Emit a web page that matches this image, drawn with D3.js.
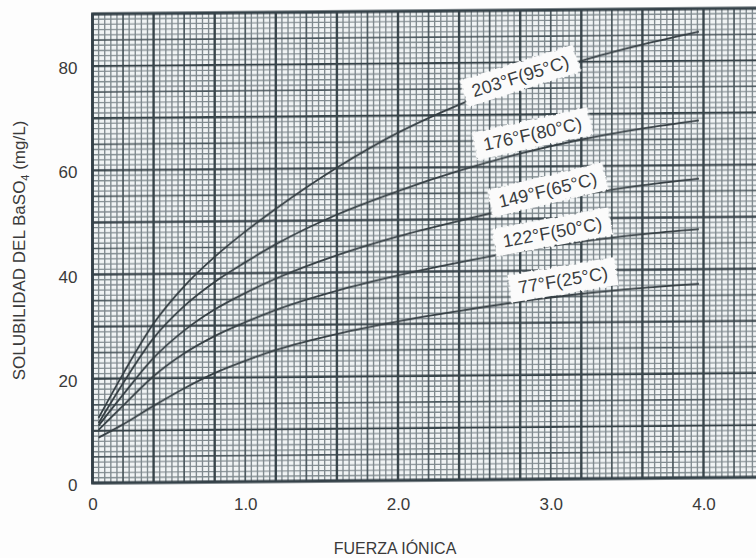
<!DOCTYPE html>
<html>
<head>
<meta charset="utf-8">
<script src="https://cdn.jsdelivr.net/npm/d3@7"></script>
<style>
  html, body { margin: 0; padding: 0; background: #ffffff; }
  svg { display: block; }
</style>
</head>
<body>
<svg id="chart" width="756" height="558"></svg>
<script>
// Ionic strength sample points shared by every isotherm
const ionicStrength = [0.04, 0.2, 0.4, 0.6, 0.8, 1.0, 1.2, 1.6, 2.0, 2.4, 2.8, 3.2, 3.6, 3.97];

// BaSO4 solubility (mg/L) for each temperature
const sol203F = [12.5, 20.9, 30.5, 37.6, 43.2, 48.0, 52.3, 60.1, 66.7, 72.0, 76.5, 80.2, 83.2, 85.6];
const sol176F = [11.5, 19.1, 27.7, 33.8, 38.4, 42.1, 45.5, 51.1, 55.5, 59.3, 62.5, 65.1, 67.1, 68.6];
const sol149F = [11.0, 16.9, 23.9, 29.1, 33.1, 36.2, 38.9, 43.3, 46.8, 49.7, 52.3, 54.5, 56.2, 57.4];
const sol122F = [10.2, 14.8, 20.4, 24.7, 28.0, 30.6, 32.9, 36.5, 39.3, 41.7, 43.8, 45.5, 46.8, 47.7];
const sol77F  = [ 8.7, 11.2, 14.7, 18.0, 20.9, 23.2, 25.2, 28.2, 30.5, 32.4, 34.1, 35.5, 36.5, 37.2];

const seriesNames = ["203°F(95°C)", "176°F(80°C)", "149°F(65°C)", "122°F(50°C)", "77°F(25°C)"];
const seriesValues = [sol203F, sol176F, sol149F, sol122F, sol77F];

// Where each temperature tag sits (data units) and its tilt in degrees
const labelX = [2.80, 2.88, 2.98, 3.01, 3.08];
const labelY = [77.4, 66.3, 55.5, 47.4, 38.2];
const labelAngle = [17, 12, 13, 10, 9];

const xTicks = [0, 1, 2, 3, 4];
const xTickLabels = ["0", "1.0", "2.0", "3.0", "4.0"];
const yTicks = [0, 20, 40, 60, 80];

const W = 756, H = 558;
const svg = d3.select("#chart");

const x = d3.scaleLinear().domain([0, 4]).range([92.5, 703.5]);
const y = d3.scaleLinear().domain([0, 90]).range([483, 14]);
const xMax = x.invert(W + 4);

// soft, slightly ragged edge for the pasted-on tags
const defs = svg.append("defs");
const rough = defs.append("filter").attr("id", "rough")
  .attr("x", "-10%").attr("y", "-30%").attr("width", "120%").attr("height", "160%");
rough.append("feTurbulence").attr("type", "fractalNoise").attr("baseFrequency", "0.35")
  .attr("numOctaves", 2).attr("seed", 3).attr("result", "noise");
rough.append("feDisplacementMap").attr("in", "SourceGraphic").attr("in2", "noise")
  .attr("scale", 4).attr("xChannelSelector", "R").attr("yChannelSelector", "G");

const soft = defs.append("filter").attr("id", "soft");
soft.append("feGaussianBlur").attr("stdDeviation", 0.35);

svg.append("rect").attr("width", W).attr("height", H).attr("fill", "#fdfdfd");

// the graph paper sits a touch askew on the page
const plot = svg.append("g")
  .attr("transform", `translate(${x(0)},0) skewY(-0.5) translate(${-x(0)},0)`);

const gridG = plot.append("g").attr("filter", "url(#soft)");
gridG.append("rect")
  .attr("x", x(0)).attr("y", y(90))
  .attr("width", W - x(0) + 10).attr("height", y(0) - y(90))
  .attr("fill", "#f1f4f5");

// grid: 0.04 per minor column, 1 mg/L per minor row
const vIdx = d3.range(0, Math.floor(xMax / 0.04) + 1);
const hIdx = d3.range(0, 91);
const levels = [
  { test: i => i % 5 !== 0, color: "#7f898e", width: 1.35 },
  { test: i => i % 5 === 0 && i % 10 !== 0, color: "#4c585e", width: 1.7 },
  { test: i => i % 10 === 0, color: "#39454b", width: 2.4 }
];
levels.forEach(lv => {
  gridG.append("g").selectAll("line.v")
    .data(vIdx.filter(lv.test)).join("line")
    .attr("x1", i => x(i * 0.04)).attr("x2", i => x(i * 0.04))
    .attr("y1", y(90)).attr("y2", y(0))
    .attr("stroke", lv.color).attr("stroke-width", lv.width);
  gridG.append("g").selectAll("line.h")
    .data(hIdx.filter(lv.test)).join("line")
    .attr("x1", x(0)).attr("x2", W + 10)
    .attr("y1", i => y(i)).attr("y2", i => y(i))
    .attr("stroke", lv.color).attr("stroke-width", lv.width);
});

// frame
gridG.append("path")
  .attr("d", `M${W + 10},${y(90)} H${x(0)} V${y(0)} H${W + 10}`)
  .attr("fill", "none").attr("stroke", "#36424a").attr("stroke-width", 2.8);

// isotherms
const line = d3.line()
  .x((d, i) => x(ionicStrength[i]))
  .y(d => y(d))
  .curve(d3.curveMonotoneX);

plot.append("g").attr("filter", "url(#soft)")
  .selectAll("path.curve").data(seriesValues).join("path")
  .attr("class", "curve")
  .attr("d", line)
  .attr("fill", "none")
  .attr("stroke", "#343e43")
  .attr("stroke-width", 1.8);

// temperature tags
const tags = plot.append("g").selectAll("g.tag").data(seriesNames).join("g")
  .attr("class", "tag")
  .attr("transform", (d, i) => `translate(${x(labelX[i])},${y(labelY[i])}) rotate(${-labelAngle[i]})`);

tags.each(function (d) {
  const g = d3.select(this);
  const t = g.append("text")
    .attr("text-anchor", "middle")
    .attr("dy", "0.36em")
    .attr("font-family", "'Liberation Sans', Arial, Helvetica, sans-serif")
    .attr("font-size", 18)
    .attr("fill", "#3a3d3f")
    .text(d);
  const w = t.node().getComputedTextLength();
  g.insert("rect", "text")
    .attr("x", -w / 2 - 9).attr("y", -14)
    .attr("width", w + 18).attr("height", 28)
    .attr("fill", "#fbfbfb")
    .attr("filter", "url(#rough)");
});

// axes
const font = "'Liberation Sans', Arial, Helvetica, sans-serif";

const yAxis = svg.append("g")
  .attr("transform", `translate(${x(0)},0)`)
  .call(d3.axisLeft(y).tickValues(yTicks).tickSize(0).tickPadding(15).tickFormat(d3.format("d")));
yAxis.select(".domain").remove();
yAxis.selectAll("text")
  .attr("font-family", font).attr("font-size", 17).attr("fill", "#3a3a3a")
  .attr("dy", "0.45em");

const xAxis = svg.append("g")
  .attr("transform", `translate(0,${y(0)})`)
  .call(d3.axisBottom(x).tickValues(xTicks).tickSize(0).tickPadding(15)
    .tickFormat((d, i) => xTickLabels[i]));
xAxis.select(".domain").remove();
xAxis.selectAll("text")
  .attr("font-family", font).attr("font-size", 17).attr("fill", "#3a3a3a");

// axis titles
svg.append("text")
  .attr("transform", `translate(25,${(y(0) + y(90)) / 2 + 2}) rotate(-90)`)
  .attr("text-anchor", "middle")
  .attr("font-family", font).attr("font-size", 17).attr("fill", "#3a3a3a")
  .call(t => {
    t.append("tspan").text("SOLUBILIDAD DEL BaSO");
    t.append("tspan").attr("font-size", 11).attr("dy", 4).text("4");
    t.append("tspan").attr("dy", -4).text(" (mg/L)");
  });

svg.append("text")
  .attr("x", 395).attr("y", 554)
  .attr("text-anchor", "middle")
  .attr("font-family", font).attr("font-size", 16).attr("fill", "#3a3a3a")
  .text("FUERZA IÓNICA");
</script>
</body>
</html>
